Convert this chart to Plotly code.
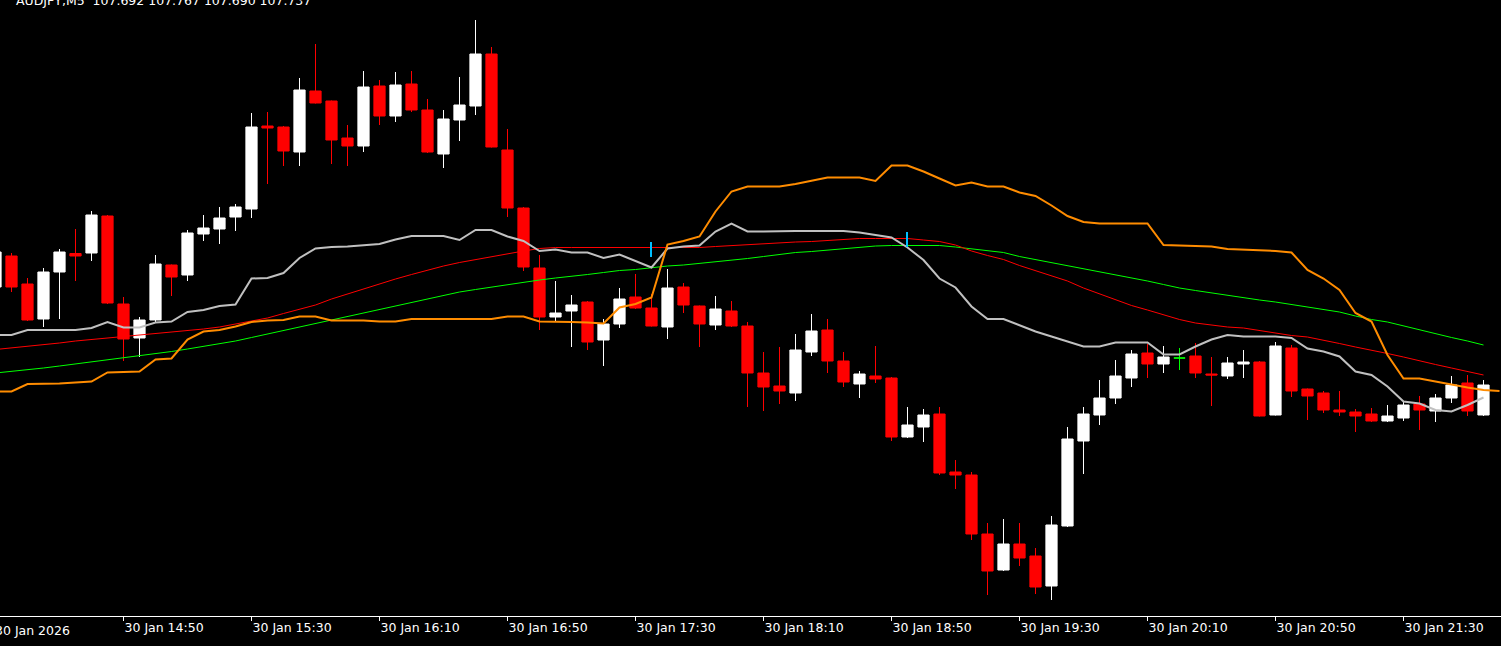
import plotly.graph_objects as go

# ---------------- data ----------------
bar_open = [107.933, 107.995, 107.939, 107.869, 107.963, 108.000, 108.001, 108.075, 107.899, 107.831,
            107.867, 107.977, 107.957, 108.039, 108.049, 108.073, 108.089, 108.255, 108.253, 108.203,
            108.325, 108.305, 108.231, 108.215, 108.335, 108.275, 108.339, 108.287, 108.199, 108.267,
            108.295, 108.399, 108.207, 108.091, 107.971, 107.873, 107.885, 107.903, 107.827, 107.859,
            107.913, 107.891, 107.853, 107.933, 107.895, 107.857, 107.885, 107.855, 107.761, 107.735,
            107.721, 107.803, 107.847, 107.785, 107.739, 107.755, 107.751, 107.633, 107.653, 107.679,
            107.563, 107.557, 107.439, 107.367, 107.419, 107.395, 107.335, 107.455, 107.625, 107.677,
            107.711, 107.751, 107.801, 107.779, 107.791, 107.795, 107.759, 107.755, 107.779, 107.783,
            107.677, 107.811, 107.729, 107.721, 107.687, 107.683, 107.679, 107.665, 107.671, 107.699,
            107.685, 107.711, 107.741, 107.677]
bar_high = [108.009, 108.001, 107.951, 107.971, 108.009, 108.049, 108.085, 108.077, 107.913, 107.873,
            107.997, 107.978, 108.047, 108.077, 108.093, 108.099, 108.281, 108.283, 108.255, 108.351,
            108.419, 108.306, 108.257, 108.365, 108.347, 108.363, 108.365, 108.309, 108.287, 108.353,
            108.467, 108.413, 108.249, 108.093, 107.997, 107.945, 107.917, 107.905, 107.869, 107.931,
            107.959, 107.919, 107.969, 107.941, 107.896, 107.915, 107.905, 107.863, 107.803, 107.813,
            107.839, 107.879, 107.869, 107.803, 107.765, 107.815, 107.753, 107.693, 107.689, 107.693,
            107.587, 107.563, 107.461, 107.469, 107.461, 107.411, 107.475, 107.653, 107.693, 107.747,
            107.787, 107.807, 107.819, 107.815, 107.811, 107.821, 107.793, 107.793, 107.807, 107.785,
            107.823, 107.817, 107.730, 107.725, 107.725, 107.689, 107.691, 107.697, 107.705, 107.715,
            107.719, 107.755, 107.757, 107.747]
bar_low = [107.927, 107.923, 107.865, 107.853, 107.869, 107.945, 107.985, 107.899, 107.785, 107.793,
           107.863, 107.915, 107.945, 108.025, 108.019, 108.045, 108.071, 108.139, 108.175, 108.175,
           108.300, 108.179, 108.175, 108.203, 108.257, 108.263, 108.283, 108.201, 108.171, 108.225,
           108.277, 108.212, 108.073, 107.965, 107.847, 107.865, 107.813, 107.807, 107.775, 107.851,
           107.889, 107.854, 107.829, 107.881, 107.813, 107.847, 107.853, 107.693, 107.685, 107.699,
           107.705, 107.795, 107.761, 107.733, 107.711, 107.741, 107.625, 107.631, 107.623, 107.557,
           107.529, 107.427, 107.317, 107.365, 107.375, 107.319, 107.307, 107.453, 107.559, 107.657,
           107.699, 107.733, 107.751, 107.761, 107.767, 107.751, 107.695, 107.749, 107.751, 107.674,
           107.676, 107.713, 107.667, 107.681, 107.675, 107.643, 107.663, 107.663, 107.665, 107.647,
           107.663, 107.701, 107.675, 107.675]
bar_close = [108.003, 107.933, 107.867, 107.963, 108.003, 107.995, 108.077, 107.901, 107.829, 107.867,
             107.979, 107.953, 108.041, 108.051, 108.071, 108.093, 108.253, 108.251, 108.205, 108.327,
             108.301, 108.227, 108.215, 108.333, 108.275, 108.337, 108.287, 108.203, 108.269, 108.297,
             108.399, 108.213, 108.091, 107.973, 107.873, 107.881, 107.897, 107.823, 107.859, 107.909,
             107.891, 107.855, 107.931, 107.897, 107.859, 107.889, 107.855, 107.761, 107.733, 107.725,
             107.807, 107.845, 107.785, 107.743, 107.759, 107.749, 107.633, 107.657, 107.677, 107.561,
             107.557, 107.439, 107.365, 107.419, 107.391, 107.333, 107.457, 107.629, 107.679, 107.711,
             107.755, 107.799, 107.779, 107.793, 107.791, 107.761, 107.757, 107.781, 107.783, 107.675,
             107.815, 107.725, 107.715, 107.687, 107.683, 107.675, 107.665, 107.675, 107.697, 107.687,
             107.711, 107.737, 107.685, 107.737]

silver_line = [107.837, 107.837, 107.847, 107.847, 107.847, 107.847, 107.851, 107.863, 107.852, 107.852,
               107.862, 107.864, 107.883, 107.887, 107.895, 107.898, 107.950, 107.951, 107.961, 107.991,
               108.010, 108.013, 108.014, 108.017, 108.019, 108.028, 108.035, 108.035, 108.035, 108.027,
               108.047, 108.047, 108.034, 108.025, 108.005, 108.008, 108.002, 108.002, 107.991, 107.998,
               107.985, 107.972, 108.010, 108.014, 108.016, 108.044, 108.060, 108.044, 108.044, 108.045,
               108.045, 108.045, 108.045, 108.045, 108.042, 108.037, 108.032, 108.012, 107.987, 107.950,
               107.932, 107.894, 107.869, 107.869, 107.857, 107.844, 107.834, 107.824, 107.814, 107.814,
               107.822, 107.822, 107.822, 107.798, 107.798, 107.814, 107.828, 107.837, 107.834, 107.834,
               107.834, 107.831, 107.810, 107.804, 107.794, 107.764, 107.757, 107.734, 107.704, 107.700,
               107.687, 107.684, 107.697, 107.712]
red_ma = [107.808, 107.811, 107.814, 107.817, 107.821, 107.825, 107.828, 107.831, 107.834, 107.837,
          107.839, 107.842, 107.845, 107.849, 107.853, 107.859, 107.865, 107.871, 107.880, 107.889,
          107.897, 107.909, 107.919, 107.930, 107.940, 107.949, 107.958, 107.967, 107.975, 107.982,
          107.988, 107.993, 107.999, 108.005, 108.010, 108.012, 108.012, 108.012, 108.012, 108.012,
          108.012, 108.012, 108.012, 108.012, 108.012, 108.014, 108.016, 108.017, 108.019, 108.021,
          108.023, 108.024, 108.026, 108.028, 108.030, 108.030, 108.030, 108.030, 108.027, 108.024,
          108.017, 108.005, 107.996, 107.988, 107.976, 107.966, 107.956, 107.945, 107.931, 107.919,
          107.907, 107.896, 107.887, 107.878, 107.868, 107.861, 107.857, 107.853, 107.851, 107.846,
          107.840, 107.836, 107.833, 107.827, 107.820, 107.813, 107.807, 107.800, 107.793, 107.785,
          107.778, 107.771, 107.764, 107.757]
green_ma = [107.761, 107.764, 107.768, 107.771, 107.775, 107.779, 107.783, 107.787, 107.791, 107.795,
            107.799, 107.804, 107.809, 107.814, 107.819, 107.825, 107.832, 107.839, 107.846, 107.853,
            107.860, 107.867, 107.874, 107.881, 107.888, 107.895, 107.902, 107.909, 107.917, 107.923,
            107.928, 107.933, 107.938, 107.942, 107.947, 107.951, 107.954, 107.958, 107.962, 107.966,
            107.968, 107.972, 107.975, 107.977, 107.980, 107.984, 107.987, 107.990, 107.994, 107.998,
            108.002, 108.004, 108.007, 108.010, 108.012, 108.015, 108.016, 108.016, 108.016, 108.016,
            108.013, 108.009, 108.006, 108.002, 107.994, 107.988, 107.982, 107.976, 107.970, 107.963,
            107.957, 107.951, 107.945, 107.938, 107.931, 107.926, 107.921, 107.916, 107.911, 107.907,
            107.903, 107.898, 107.894, 107.889, 107.883, 107.875, 107.868, 107.863, 107.855, 107.847,
            107.839, 107.832, 107.825, 107.817]
orange_stop = [107.724, 107.724, 107.739, 107.739, 107.740, 107.742, 107.744, 107.762, 107.763, 107.764,
               107.788, 107.790, 107.828, 107.844, 107.847, 107.854, 107.863, 107.866, 107.867, 107.874,
               107.874, 107.866, 107.866, 107.866, 107.864, 107.864, 107.869, 107.869, 107.869, 107.869,
               107.869, 107.869, 107.874, 107.874, 107.864, 107.864, 107.863, 107.862, 107.860, 107.892,
               107.899, 107.912, 108.018, 108.025, 108.034, 108.084, 108.124, 108.134, 108.134, 108.134,
               108.139, 108.146, 108.152, 108.152, 108.152, 108.145, 108.176, 108.176, 108.164, 108.150,
               108.136, 108.142, 108.134, 108.134, 108.122, 108.115, 108.096, 108.075, 108.063, 108.060,
               108.060, 108.060, 108.060, 108.017, 108.016, 108.015, 108.014, 108.009, 108.008, 108.007,
               108.005, 108.002, 107.967, 107.950, 107.927, 107.881, 107.864, 107.797, 107.750, 107.750,
               107.744, 107.737, 107.732, 107.727, 107.725]

signal_bar = [41, 57]
signal_top = [108.023, 108.043]
signal_bottom = [107.993, 108.013]

tick_bars = [8, 16, 24, 32, 40, 48, 56, 64, 72, 80, 88]
tick_labels = ["30 Jan 14:50", "30 Jan 15:30", "30 Jan 16:10", "30 Jan 16:50", "30 Jan 17:30",
               "30 Jan 18:10", "30 Jan 18:50", "30 Jan 19:30", "30 Jan 20:10", "30 Jan 20:50",
               "30 Jan 21:30"]
first_label = "30 Jan 2026"
header_text = "AUDJPY,M5  107.692 107.767 107.690 107.737"

# ---------------- figure ----------------
bars = list(range(len(bar_open)))
normal = [i for i in bars if bar_open[i] != bar_close[i]]
doji = [i for i in bars if bar_open[i] == bar_close[i]]

FONT = "DejaVu Sans"
fig = go.Figure()

fig.add_trace(go.Candlestick(
    x=normal,
    open=[bar_open[i] for i in normal], high=[bar_high[i] for i in normal],
    low=[bar_low[i] for i in normal], close=[bar_close[i] for i in normal],
    increasing=dict(line=dict(color="#FFFFFF", width=1), fillcolor="#FFFFFF"),
    decreasing=dict(line=dict(color="#FF0000", width=1), fillcolor="#FF0000"),
    whiskerwidth=0, hoverinfo="skip", showlegend=False))

fig.add_trace(go.Candlestick(
    x=doji,
    open=[bar_open[i] for i in doji], high=[bar_high[i] for i in doji],
    low=[bar_low[i] for i in doji], close=[bar_close[i] for i in doji],
    increasing=dict(line=dict(color="#00FF00", width=1), fillcolor="#00FF00"),
    decreasing=dict(line=dict(color="#00FF00", width=1), fillcolor="#00FF00"),
    whiskerwidth=0, hoverinfo="skip", showlegend=False))

fig.add_trace(go.Scatter(x=bars, y=green_ma, mode="lines",
                         line=dict(color="#00FF00", width=1), hoverinfo="skip"))
fig.add_trace(go.Scatter(x=bars, y=red_ma, mode="lines",
                         line=dict(color="#FF0000", width=1), hoverinfo="skip"))
fig.add_trace(go.Scatter(x=bars, y=silver_line, mode="lines",
                         line=dict(color="#C0C0C0", width=2), hoverinfo="skip"))
fig.add_trace(go.Scatter(x=list(range(len(orange_stop))), y=orange_stop, mode="lines",
                         line=dict(color="#FF8C00", width=2), hoverinfo="skip"))

sx, sy = [], []
for b, t, lo in zip(signal_bar, signal_top, signal_bottom):
    sx += [b - 0.03, b - 0.03, None]
    sy += [lo, t, None]
fig.add_trace(go.Scatter(x=sx, y=sy, mode="lines",
                         line=dict(color="#00BFFF", width=2), hoverinfo="skip"))

fig.update_layout(
    width=1501, height=646,
    margin=dict(l=0, r=0, t=0, b=30),
    paper_bgcolor="#000000", plot_bgcolor="#000000",
    showlegend=False,
    boxgap=0.3, boxgroupgap=0,
    xaxis=dict(range=[0.28125, 94.09375], rangeslider=dict(visible=False),
               showgrid=False, zeroline=False,
               tickmode="array", tickvals=tick_bars, ticktext=tick_labels,
               ticks="outside", ticklen=4, tickwidth=1, tickcolor="#FFFFFF",
               ticklabelposition="outside right",
               showline=True, linecolor="#FFFFFF", linewidth=1,
               tickfont=dict(family=FONT, size=12.5, color="#FFFFFF")),
    yaxis=dict(range=[107.275, 108.507], showgrid=False, zeroline=False,
               showticklabels=False, showline=False, ticks=""),
    annotations=[
        dict(text=first_label, xref="paper", yref="paper", x=0, y=0,
             xanchor="right", yanchor="middle", xshift=72, yshift=-14, showarrow=False,
             font=dict(family=FONT, size=12.5, color="#FFFFFF")),
        dict(text=header_text, xref="paper", yref="paper", x=0, y=1,
             xanchor="left", yanchor="middle", xshift=14, yshift=0, showarrow=False,
             font=dict(family=FONT, size=12.5, color="#FFFFFF")),
    ],
)

fig.write_html("out.html", config={"displayModeBar": False},
               post_script="document.body.style.margin='0';document.body.style.backgroundColor='black';")
